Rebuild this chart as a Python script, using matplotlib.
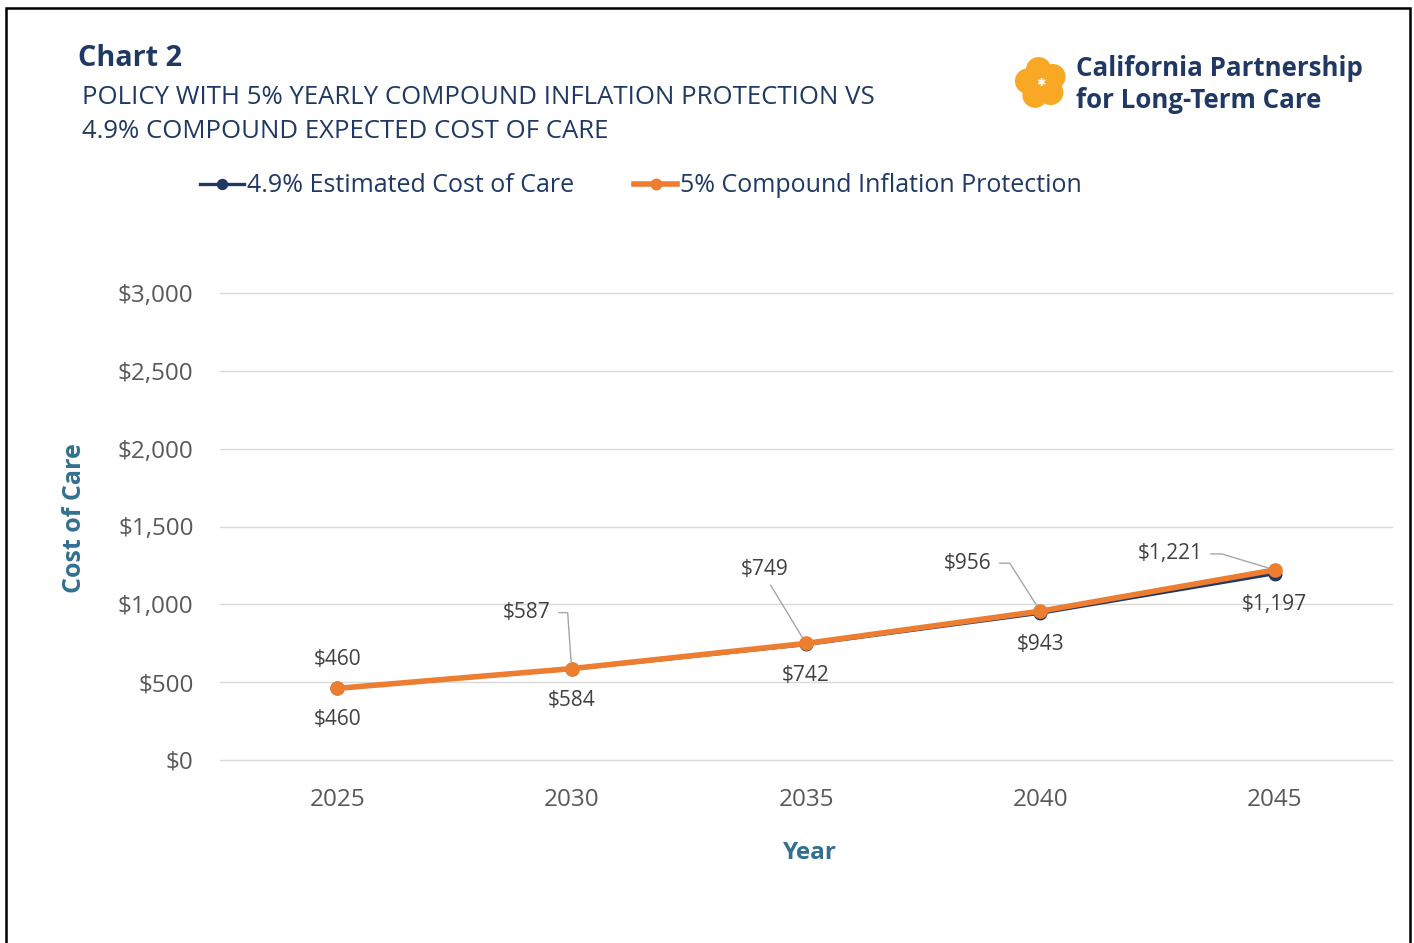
import matplotlib.pyplot as plt
from matplotlib.patches import Circle, Rectangle
import numpy as np

plt.rcParams['font.family'] = ['Open Sans', 'DejaVu Sans']

# Data
years = ["2025", "2030", "2035", "2040", "2045"]
cost_of_care = [460, 584, 742, 943, 1197]
inflation_protection = [460, 587, 749, 956, 1221]
y_ticks = [0, 500, 1000, 1500, 2000, 2500, 3000]

navy = "#1F3864"
orange = "#ED7D31"
label_gray = "#404040"
axis_blue = "#31708F"

fig = plt.figure(figsize=(14.14, 9.43), dpi=100)
W, H = 1414, 943

ax = fig.add_axes([220 / W, (H - 760) / H, 1172 / W, 467 / H])
x = np.arange(len(years))

ax.plot(x, cost_of_care, color=navy, lw=2.4, marker="o", ms=9, zorder=3,
        label="4.9% Estimated Cost of Care")
ax.plot(x, inflation_protection, color=orange, lw=4, marker="o", ms=9.5, zorder=4,
        label="5% Compound Inflation Protection")

ax.set_xlim(-0.5, len(years) - 0.5)
ax.set_ylim(0, 3000)
ax.set_yticks(y_ticks)
ax.set_yticklabels([f"${v:,}" for v in y_ticks])
ax.set_xticks(x)
ax.set_xticklabels(years)
ax.tick_params(axis="both", length=0, labelsize=17.5, colors="#595959")
ax.tick_params(axis="y", pad=19)
ax.tick_params(axis="x", pad=20)
ax.grid(axis="y", color="#D9D9D9", lw=1)
for gl in ax.get_ygridlines():
    gl.set_clip_on(False)
ax.set_axisbelow(True)
for s in ax.spines.values():
    s.set_visible(False)

ax.set_ylabel("Cost of Care", fontsize=18, fontweight="bold", color=axis_blue)
ax.yaxis.set_label_coords(-145 / 1172, (760 - 518) / 467)
ax.set_xlabel("Year", fontsize=17.5, fontweight="bold", color=axis_blue)
ax.xaxis.set_label_coords((810 - 220) / 1172, -(853 - 760) / 467)
ax.xaxis.label.set_va("center")
ax.yaxis.label.set_va("center")

# data labels (offsets in pixels -> points)
px = 0.72
for i, v in enumerate(cost_of_care):
    ax.annotate(f"${v:,}", (x[i], v), xytext=(0, -31 * px), textcoords="offset points",
                ha="center", va="center", fontsize=15, color=label_gray)

orange_offsets = [(0, 29, None), (-45, 56, 86), (-41, 74, "straight"), (-73, 48, 57.4), (-105, 16, 16.8)]
for i, v in enumerate(inflation_protection):
    dx, dy, ang = orange_offsets[i]
    kw = {}
    if ang == "straight":
        kw["arrowprops"] = dict(arrowstyle="-", color="#A6A6A6", lw=1, relpos=(0.55, 0.0),
                                shrinkA=2, shrinkB=5)
    elif ang is not None:
        kw["arrowprops"] = dict(arrowstyle="-", color="#A6A6A6", lw=1, relpos=(1.0, 0.5),
                                shrinkA=4, shrinkB=5,
                                connectionstyle=f"angle,angleA=0,angleB={-ang},rad=0")
    ax.annotate(f"${v:,}", (x[i], v), xytext=(dx * px, dy * px), textcoords="offset points",
                ha="center", va="center", fontsize=15, color=label_gray, **kw)

# legend
fig.legend(loc="center", bbox_to_anchor=(641 / W, (H - 186) / H), ncol=2, frameon=False,
           fontsize=18, handlelength=1.75, handletextpad=0.12, columnspacing=2.4,
           labelcolor=navy, markerscale=0.8)

# titles
fig.text(78 / W, (H - 58) / H, "Chart 2", fontsize=20.8, fontweight="bold", color=navy,
         va="center", ha="left")
fig.text(82 / W, (H - 97) / H, "POLICY WITH 5% YEARLY COMPOUND INFLATION PROTECTION VS",
         fontsize=18.5, color=navy, va="center", ha="left")
fig.text(82 / W, (H - 131) / H, "4.9% COMPOUND EXPECTED COST OF CARE",
         fontsize=18.5, color=navy, va="center", ha="left")

# logo
fig.text(1076 / W, (H - 69) / H, "California Partnership", fontsize=18.6, fontweight="bold",
         color=navy, va="center", ha="left")
fig.text(1076 / W, (H - 100) / H, "for Long-Term Care", fontsize=18.6, fontweight="bold",
         color=navy, va="center", ha="left")
lax = fig.add_axes([1014 / W, (H - 110) / H, 54 / W, 54 / H])
lax.set_xlim(-1, 1)
lax.set_ylim(-1, 1)
lax.set_aspect("equal")
lax.axis("off")
for a in np.deg2rad([100, 172, 244, 316, 28]):
    lax.add_patch(Circle((0.5 * np.cos(a), 0.5 * np.sin(a)), 0.47, color="#F9A825", lw=0))
lax.add_patch(Circle((0, 0), 0.5, color="#F9A825", lw=0))
lax.text(0, 0, "✱", color="white", fontsize=8, ha="center", va="center",
         family="DejaVu Sans")

# border
fig.add_artist(Rectangle((6 / W, -0.02), 1404 / W, (H - 8) / H + 0.02,
                         transform=fig.transFigure, fill=False, ec="black", lw=1.8))

fig.savefig("out.png", dpi=100)
